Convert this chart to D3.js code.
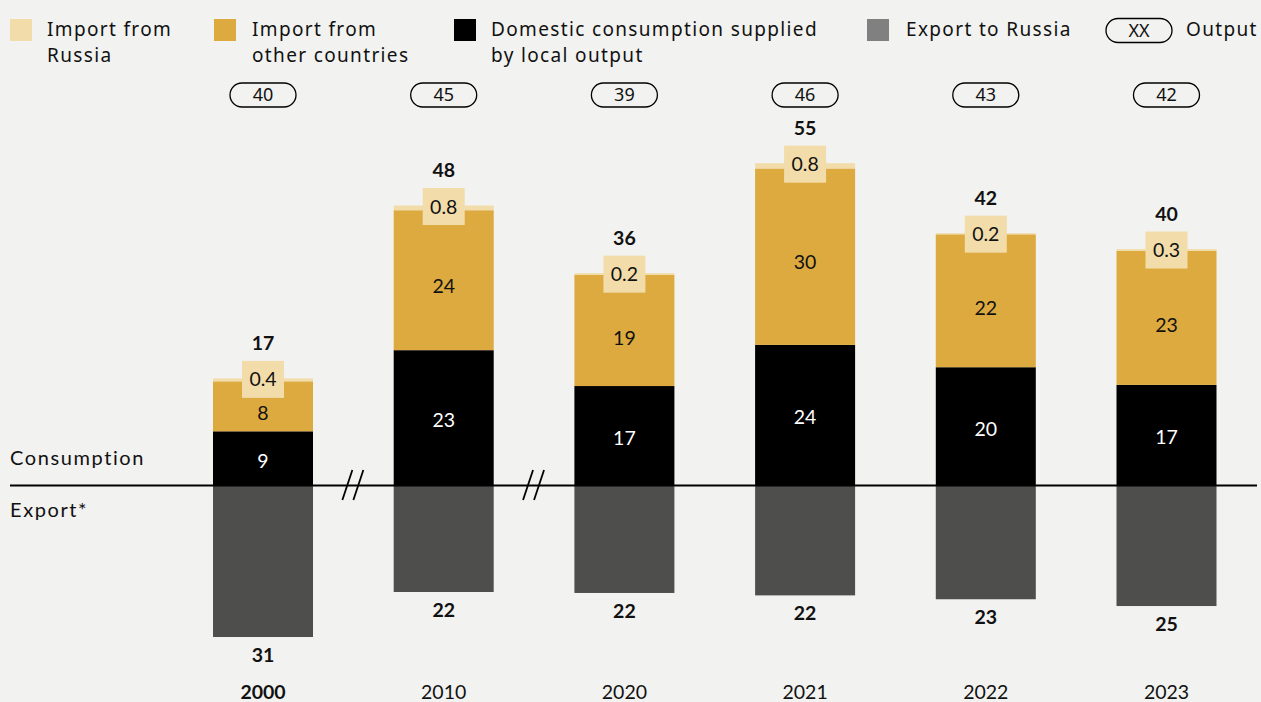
<!DOCTYPE html>
<html><head><meta charset="utf-8">
<script src="https://cdn.jsdelivr.net/npm/d3@7/dist/d3.min.js"></script>
<style>
html,body{margin:0;padding:0;background:#f2f2f0;}
svg{display:block;}
</style></head>
<body>
<svg id="chart" width="1261" height="702"></svg>
<script>
// ---- data ----
const years = ["2000", "2010", "2020", "2021", "2022", "2023"];
const domestic = [9.3, 23.1, 17.0, 24.0, 20.2, 17.2];
const importOther = [8.5, 23.8, 18.9, 30.0, 22.6, 22.8];
const importRussia = [0.5, 0.8, 0.3, 0.9, 0.2, 0.3];
const exportRussia = [31.2, 21.9, 22.1, 22.6, 23.4, 24.8];
const output = [40, 45, 39, 46, 43, 42];
// printed labels
const domesticLabels = ["9", "23", "17", "24", "20", "17"];
const otherLabels = ["8", "24", "19", "30", "22", "23"];
const russiaLabels = ["0.4", "0.8", "0.2", "0.8", "0.2", "0.3"];
const totalLabels = ["17", "48", "36", "55", "42", "40"];
const exportLabels = ["31", "22", "22", "22", "23", "25"];
const legendLabels = [["Import from", "Russia"], ["Import from", "other countries"], ["Domestic consumption supplied", "by local output"], ["Export to Russia"]];

// ---- styles ----
const C = {bg:"#f2f2f0", light:"#f2dcaa", gold:"#dcaa3e", black:"#000000", exp:"#4e4e4c", expLegend:"#808080", text:"#111111"};
const chartFont = "Lato, 'Noto Sans', sans-serif";
const legendFont = "'Noto Sans', 'Open Sans', sans-serif";
const FS = 19.5;

const svg = d3.select("#chart");
svg.append("rect").attr("width",1261).attr("height",702).attr("fill",C.bg);

const base = 486;
const x = d3.scaleBand().domain(years).range([172.65, 1256.85]).paddingInner(0.4466).paddingOuter(0.2233);
const yC = d3.scaleLinear().domain([0, 60]).range([base, base - 60*5.88]);
const yE = d3.scaleLinear().domain([0, 35]).range([base, base + 35*4.84]);
const bw = x.bandwidth();

const rows = years.map((y,i)=>({
  year:y, i, d:domestic[i], o:importOther[i], r:importRussia[i], e:exportRussia[i], out:output[i]
}));

const g = svg.append("g");
// export bars
g.selectAll(".exp").data(rows).join("rect")
  .attr("x", d=>x(d.year)).attr("width", bw)
  .attr("y", yE(0)).attr("height", d=>yE(d.e)-yE(0)).attr("fill", C.exp);
// domestic
g.selectAll(".dom").data(rows).join("rect")
  .attr("x", d=>x(d.year)).attr("width", bw)
  .attr("y", d=>yC(d.d)).attr("height", d=>yC(0)-yC(d.d)).attr("fill", C.black);
// other imports
g.selectAll(".oth").data(rows).join("rect")
  .attr("x", d=>x(d.year)).attr("width", bw)
  .attr("y", d=>yC(d.d+d.o)).attr("height", d=>yC(d.d)-yC(d.d+d.o)).attr("fill", C.gold);
// russia imports
g.selectAll(".rus").data(rows).join("rect")
  .attr("x", d=>x(d.year)).attr("width", bw)
  .attr("y", d=>yC(d.d+d.o+d.r)).attr("height", d=>yC(d.d+d.o)-yC(d.d+d.o+d.r)).attr("fill", C.light);

// axis line
svg.append("line").attr("x1",10).attr("x2",1257).attr("y1",base-0.5).attr("y2",base-0.5)
  .attr("stroke","#000").attr("stroke-width",2);

// break marks
[0,1].forEach(k=>{
  const cx = (x(years[k]) + bw + x(years[k+1]))/2 - 0.5;
  [-5.5, 5.5].forEach(off=>{
    svg.append("line").attr("x1",cx+off+5).attr("y1",base-16).attr("x2",cx+off-5).attr("y2",base+14)
      .attr("stroke","#000").attr("stroke-width",1.8);
  });
});

// labels in bars
const cx = d=>x(d.year)+bw/2;
g.selectAll(".domL").data(rows).join("text")
  .attr("x", cx).attr("y", d=>(yC(0)+yC(d.d))/2+2).attr("dy","0.36em")
  .attr("text-anchor","middle").attr("fill","#fff").attr("font-family",chartFont).attr("font-size",FS)
  .text(d=>domesticLabels[d.i]);

const boxW = 42, boxH = 37;
const boxCY = d=>yC(d.d+d.o+d.r)+1;
g.selectAll(".othL").data(rows).join("text")
  .attr("x", cx).attr("y", d=>(boxCY(d)+boxH/2+yC(d.d))/2-1.5).attr("dy","0.36em")
  .attr("text-anchor","middle").attr("fill",C.text).attr("font-family",chartFont).attr("font-size",FS)
  .text(d=>otherLabels[d.i]);

g.selectAll(".box").data(rows).join("rect")
  .attr("x", d=>cx(d)-boxW/2).attr("y", d=>boxCY(d)-boxH/2).attr("width",boxW).attr("height",boxH)
  .attr("fill", C.light);
g.selectAll(".rusL").data(rows).join("text")
  .attr("x", cx).attr("y", d=>boxCY(d)).attr("dy","0.36em")
  .attr("text-anchor","middle").attr("fill",C.text).attr("font-family",chartFont).attr("font-size",FS)
  .text(d=>russiaLabels[d.i]);
g.selectAll(".totL").data(rows).join("text")
  .attr("x", cx).attr("y", d=>boxCY(d)-boxH/2-11)
  .attr("text-anchor","middle").attr("fill",C.text).attr("font-family",chartFont).attr("font-size",FS).attr("font-weight",700)
  .text(d=>totalLabels[d.i]);
g.selectAll(".expL").data(rows).join("text")
  .attr("x", cx).attr("y", d=>yE(d.e)+25)
  .attr("text-anchor","middle").attr("fill",C.text).attr("font-family",chartFont).attr("font-size",FS).attr("font-weight",700)
  .text(d=>exportLabels[d.i]);

// year labels
g.selectAll(".yr").data(rows).join("text")
  .attr("x", cx).attr("y", 699)
  .attr("text-anchor","middle").attr("fill",C.text).attr("font-family",chartFont).attr("font-size",FS)
  .attr("font-weight", d=>d.i===0?700:400)
  .text(d=>d.year);

// output pills
const pw = 66, ph = 24, pcy = 95;
g.selectAll(".pill").data(rows).join("rect")
  .attr("x", d=>cx(d)-pw/2).attr("y", pcy-ph/2).attr("width",pw).attr("height",ph).attr("rx",12)
  .attr("fill","none").attr("stroke","#000").attr("stroke-width",1.3);
g.selectAll(".pillL").data(rows).join("text")
  .attr("x", cx).attr("y", pcy).attr("dy","0.36em")
  .attr("text-anchor","middle").attr("fill",C.text).attr("font-family",legendFont).attr("font-size",18)
  .text(d=>d.out);

// side labels
svg.append("text").attr("x",10).attr("y",465).attr("font-family",chartFont).attr("font-size",20).attr("letter-spacing",1.6).attr("fill",C.text).text("Consumption");
svg.append("text").attr("x",10).attr("y",517).attr("font-family",chartFont).attr("font-size",20).attr("letter-spacing",1.6).attr("fill",C.text).text("Export*");

// legend
const legColors = [C.light, C.gold, C.black, C.expLegend];
const legSq = [10, 214, 454, 867];
const legTx = [47, 252, 491, 906];
legendLabels.forEach((lines,i)=>{
  svg.append("rect").attr("x",legSq[i]).attr("y",19).attr("width",22).attr("height",22).attr("fill",legColors[i]);
  const t = svg.append("text").attr("x",legTx[i]).attr("y",36).attr("font-family",legendFont).attr("font-size",19).attr("letter-spacing",1.35).attr("fill",C.text);
  lines.forEach((l,j)=>t.append("tspan").attr("x",legTx[i]).attr("dy", j===0?0:26).text(l));
});
svg.append("rect").attr("x",1106).attr("y",18.5).attr("width",66).attr("height",24).attr("rx",12)
  .attr("fill","none").attr("stroke","#000").attr("stroke-width",1.3);
svg.append("text").attr("x",1139).attr("y",30.5).attr("dy","0.36em").attr("text-anchor","middle")
  .attr("font-family",legendFont).attr("font-size",18).attr("fill",C.text).text("XX");
svg.append("text").attr("x",1186).attr("y",36).attr("font-family",legendFont).attr("font-size",19).attr("letter-spacing",1.35).attr("fill",C.text).text("Output");
</script>
</body></html>
